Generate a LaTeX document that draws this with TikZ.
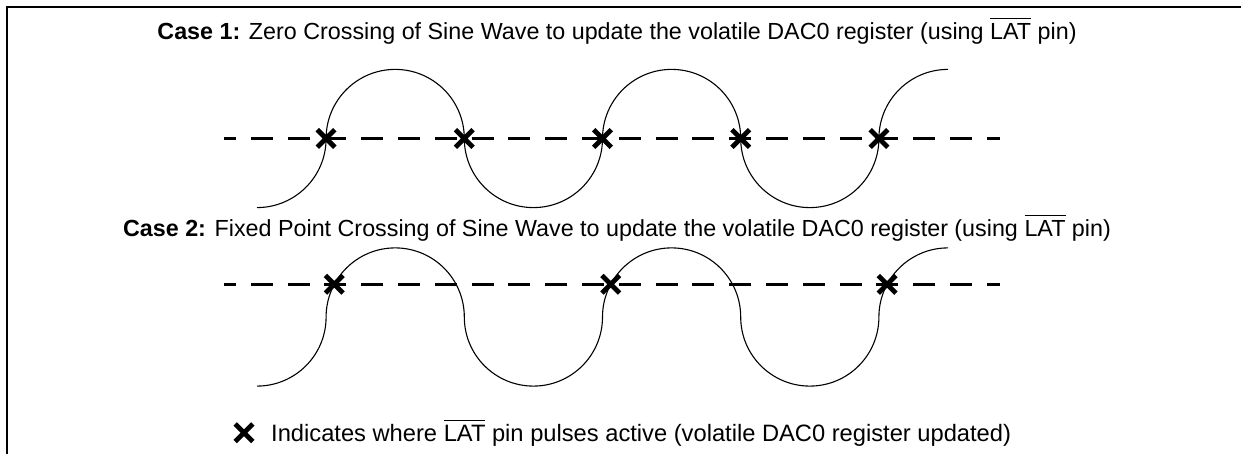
\documentclass[tikz,border=0pt]{standalone}
\usepackage{fontspec}
\setmainfont{Liberation Sans}
\newcommand\ovl[1]{\setbox0=\hbox{#1}\leavevmode\rlap{\rule[\dimexpr\ht0+4pt\relax]{\wd0}{1.4pt}}\box0\relax}
\begin{document}
\begin{tikzpicture}[x=1pt,y=1pt,
  wave/.style={line width=1.1pt},
  midline/.style={line width=2.5pt, dash pattern=on 22pt off 14.8pt, dash phase=10pt},
  txt/.style={inner sep=0pt, font=\fontsize{23.3}{28}\selectfont},
  frame/.style={line width=2pt},
  xmark/.pic={\draw[line width=4.8pt] (-8.8,-8.8)--(8.8,8.8) (-8.8,8.8)--(8.8,-8.8);}]
\useasboundingbox (0,0) rectangle (1241,454);
\draw[frame] (6.5,-2) -- (6.5,446.5) -- (1243,446.5);
\def\R{69.1}
% Case 1
\node[txt, anchor=base] (case1) at (617,414.5) {\textbf{Case 1:} Zero Crossing of Sine Wave to update the volatile DAC0 register (using \ovl{LAT} pin)};
\draw[midline] (224,315.5) -- (1000,315.5);
\draw[wave] (257,246.4) arc[start angle=270,end angle=360,radius=\R]
  arc[start angle=180,end angle=0,radius=\R]
  arc[start angle=180,end angle=360,radius=\R]
  arc[start angle=180,end angle=0,radius=\R]
  arc[start angle=180,end angle=360,radius=\R]
  arc[start angle=180,end angle=90,radius=\R];
\foreach \x in {326.1,464.3,602.5,740.7,878.9} \pic at (\x,315.5) {xmark};
% Case 2
\node[txt, anchor=base] (case2) at (617,217.5) {\textbf{Case 2:} Fixed Point Crossing of Sine Wave to update the volatile DAC0 register (using \ovl{LAT} pin)};
\draw[midline] (224,169.7) -- (1000,169.7);
\draw[wave] (257,67.9) arc[start angle=270,end angle=360,radius=\R]
  arc[start angle=180,end angle=0,radius=\R]
  arc[start angle=180,end angle=360,radius=\R]
  arc[start angle=180,end angle=0,radius=\R]
  arc[start angle=180,end angle=360,radius=\R]
  arc[start angle=180,end angle=90,radius=\R];
\foreach \x in {334.3,610.7,887.1} \pic at (\x,169.7) {xmark};
% Legend
\pic at (244,21.3) {xmark};
\node[txt, anchor=base west, font=\fontsize{23.7}{28}\selectfont] (legend) at (271,12.3) {Indicates where \ovl{LAT} pin pulses active (volatile DAC0 register updated)};
\end{tikzpicture}
\end{document}
